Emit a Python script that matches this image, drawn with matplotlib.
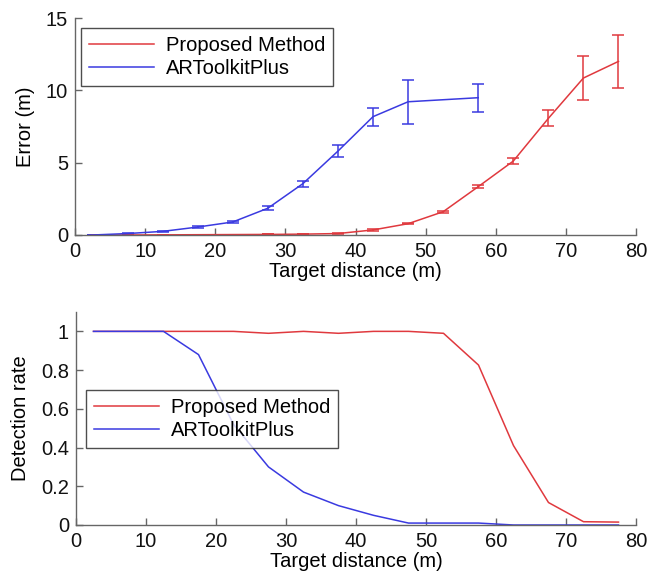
import matplotlib
matplotlib.use("Agg")
import matplotlib.pyplot as plt
from matplotlib.ticker import FuncFormatter

plt.rcParams['font.family'] = ['Liberation Sans', 'DejaVu Sans']

# ---- data ----
dist = [2.5, 7.5, 12.5, 17.5, 22.5, 27.5, 32.5, 37.5, 42.5, 47.5, 52.5, 57.5, 62.5, 67.5, 72.5, 77.5]

err_prop = [0.0, 0.0, 0.01, 0.02, 0.03, 0.04, 0.06, 0.1, 0.35, 0.78, 1.61, 3.34, 5.11, 8.06, 10.85, 12.0]
err_prop_sd = [0.0, 0.0, 0.0, 0.0, 0.0, 0.0, 0.02, 0.03, 0.04, 0.05, 0.08, 0.12, 0.2, 0.55, 1.54, 1.85]

dist_ar = [2.5, 7.5, 12.5, 17.5, 22.5, 27.5, 32.5, 37.5, 42.5, 47.5, 57.5]
err_ar = [0.0, 0.1, 0.25, 0.55, 0.9, 1.85, 3.55, 5.8, 8.18, 9.21, 9.49]
err_ar_sd = [0.0, 0.02, 0.03, 0.05, 0.07, 0.15, 0.2, 0.4, 0.63, 1.53, 0.98]

det_prop = [1.0, 1.0, 1.0, 1.0, 1.0, 0.99, 1.0, 0.99, 1.0, 1.0, 0.99, 0.826, 0.41, 0.116, 0.017, 0.015]
det_ar = [1.0, 1.0, 1.0, 0.88, 0.52, 0.30, 0.17, 0.10, 0.05, 0.01, 0.01, 0.01, 0.0, 0.0, 0.0, 0.0]

labels = ["Proposed Method", "ARToolkitPlus"]
xticks = [0, 10, 20, 30, 40, 50, 60, 70, 80]

RED = '#e0393e'
BLUE = '#3a3ae0'
FS = 14.5
SPINE = '#666666'

fig = plt.figure(figsize=(6.47, 5.8), dpi=100)
ax1 = fig.add_axes([75/647, (580-235)/580, 561/647, 217/580])
ax2 = fig.add_axes([76/647, (580-525)/580, 560/647, 213/580])

def style(ax):
    for s in ['top', 'right']:
        ax.spines[s].set_visible(False)
    for s in ['left', 'bottom']:
        ax.spines[s].set_color(SPINE)
        ax.spines[s].set_linewidth(1.0)
    ax.tick_params(direction='in', length=5, width=1.0, colors=SPINE, pad=5,
                   labelsize=FS, labelcolor='#111111', top=False, right=False)
    ax.set_xlim(0, 80)
    ax.set_xticks(xticks)

# top
ax1.errorbar(dist, err_prop, yerr=err_prop_sd, color=RED, lw=1.1, elinewidth=1.1,
             capsize=4, capthick=1.1, label=labels[0])
ax1.errorbar(dist_ar, err_ar, yerr=err_ar_sd, color=BLUE, lw=1.1, elinewidth=1.1,
             capsize=4, capthick=1.1, label=labels[1])
style(ax1)
ax1.set_ylim(0, 15)
ax1.set_yticks([0, 5, 10, 15])
ax1.set_xlabel("Target distance (m)", fontsize=FS, labelpad=1)
ax1.set_ylabel("Error (m)", fontsize=FS, labelpad=8)
h, l = ax1.get_legend_handles_labels()
h = [hh[0] for hh in h]
leg1 = ax1.legend(h, l, loc='upper left', bbox_to_anchor=(0.011, 0.954), fontsize=FS,
                  frameon=True, fancybox=False, edgecolor='#222222', borderpad=0.4,
                  handlelength=3.2, labelspacing=0.2, borderaxespad=0, handletextpad=0.6)
leg1.get_frame().set_linewidth(1.0)

# bottom
ax2.plot(dist, det_prop, color=RED, lw=1.1, label=labels[0])
ax2.plot(dist, det_ar, color=BLUE, lw=1.1, label=labels[1])
style(ax2)
ax2.set_ylim(0, 1.1)
ax2.set_yticks([0, 0.2, 0.4, 0.6, 0.8, 1.0])
ax2.yaxis.set_major_formatter(FuncFormatter(lambda v, p: ('%g' % round(v, 1))))
ax2.set_xlabel("Target distance (m)", fontsize=FS, labelpad=1)
ax2.set_ylabel("Detection rate", fontsize=FS, labelpad=8)
leg2 = ax2.legend(loc='upper left', bbox_to_anchor=(0.018, 0.634), fontsize=FS,
                  frameon=True, fancybox=False, edgecolor='#222222', borderpad=0.4,
                  handlelength=3.2, labelspacing=0.2, borderaxespad=0, handletextpad=0.6)
leg2.get_frame().set_linewidth(1.0)

fig.savefig("out.png", dpi=100)
